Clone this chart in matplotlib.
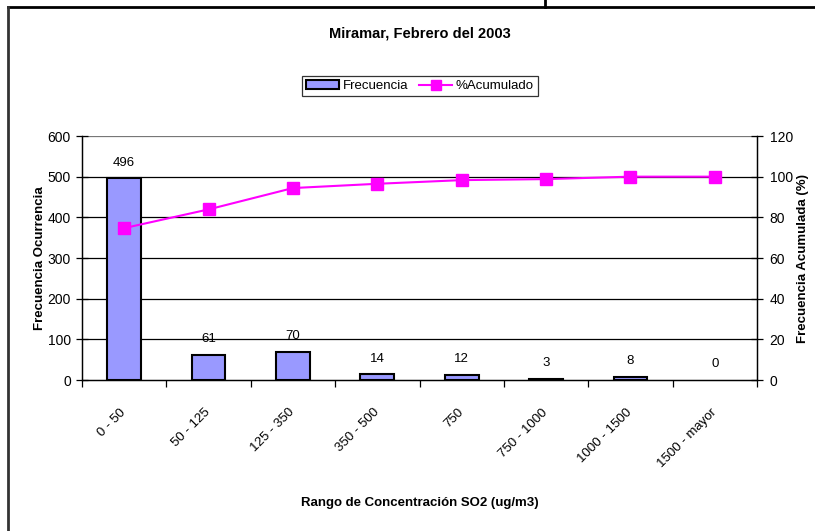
import numpy as np
import matplotlib
matplotlib.use('Agg')
import matplotlib.pyplot as plt
from matplotlib import font_manager
from matplotlib.lines import Line2D
from matplotlib.patches import Patch

# Data
categories = ['0 - 50', '50 - 125', '125 - 350', '350 - 500', '750',
              '750 - 1000', '1000 - 1500', '1500 - mayor']
frecuencia = [496, 61, 70, 14, 12, 3, 8, 0]
acumulado = [74.7, 83.9, 94.4, 96.5, 98.3, 98.8, 100.0, 100.0]

BAR_COLOR = '#9999FF'
LINE_COLOR = '#FF00FF'

available = {f.name for f in font_manager.fontManager.ttflist}
narrow = 'Liberation Sans Narrow' if 'Liberation Sans Narrow' in available else 'Liberation Sans'
plt.rcParams['font.family'] = [narrow, 'DejaVu Sans']

fig = plt.figure(figsize=(8.15, 5.31), dpi=100)
ax = fig.add_axes([82 / 815, 1 - 380 / 531, 675 / 815, 244 / 531])
ax2 = ax.twinx()

x = np.arange(len(categories))
# Excel draws nothing for an empty class
edge_w = [1.5 if v > 0 else 0 for v in frecuencia]
ax.bar(x, frecuencia, width=0.4, color=BAR_COLOR, edgecolor='black',
       linewidth=edge_w, zorder=3)
for xi, v in zip(x, frecuencia):
    ax.annotate(str(v), (xi, v), xytext=(0, 7), textcoords='offset points',
                ha='center', va='bottom', fontsize=9.5)

ax2.plot(x, acumulado, color=LINE_COLOR, linewidth=1.5, marker='s',
         markersize=8, zorder=4)

ax.set_xlim(-0.5, len(categories) - 0.5)
ax.set_ylim(0, 600)
ax.set_yticks(np.arange(0, 601, 100))
ax2.set_ylim(0, 120)
ax2.set_yticks(np.arange(0, 121, 20))

# gridlines
for yv in range(100, 601, 100):
    ax.axhline(yv, color='#777777' if yv == 600 else 'black', lw=0.9, zorder=1)

ax.set_xticks(np.arange(-0.5, len(categories), 1.0))
ax.set_xticklabels([])
ax.set_xticks(x, minor=True)
ax.set_xticklabels(categories, minor=True, rotation=45, ha='right',
                   va='center', rotation_mode='anchor', fontsize=9.5)
ax.tick_params(axis='x', which='minor', length=0, pad=22)
ax.tick_params(axis='x', which='major', length=5, direction='out', width=0.9)
ax.tick_params(axis='y', direction='inout', length=8, width=0.9, labelsize=10, pad=4)
ax2.tick_params(axis='y', direction='inout', length=8, width=0.9, labelsize=10, pad=5)

for a in (ax, ax2):
    a.spines['top'].set_visible(False)
    for s in ('left', 'right', 'bottom'):
        a.spines[s].set_linewidth(0.9)

ax.set_ylabel('Frecuencia Ocurrencia', fontsize=9.5, fontweight='bold', labelpad=1)
ax2.set_ylabel('Frecuencia Acumulada (%)', fontsize=9.5, fontweight='bold', labelpad=3)
ax.set_xlabel('Rango de Concentración SO2 (ug/m3)', fontsize=9.5,
              fontweight='bold', labelpad=0)
ax.xaxis.set_label_coords(0.5, -0.48)

fig.text(420 / 815, 1 - 33 / 531, 'Miramar, Febrero del 2003', ha='center',
         va='center', fontsize=10.5, fontweight='bold')

handles = [Patch(facecolor=BAR_COLOR, edgecolor='black', linewidth=1.5),
           Line2D([], [], color=LINE_COLOR, lw=1.5, marker='s', markersize=7)]
leg = fig.legend(handles, ['Frecuencia', '%Acumulado'], ncol=2,
                 loc='center', bbox_to_anchor=(420 / 815, 1 - 86 / 531),
                 fontsize=9.5, frameon=True, fancybox=False, borderpad=0.3,
                 handlelength=2.5, columnspacing=0.8, handletextpad=0.3)
leg.get_frame().set_edgecolor('black')
leg.get_frame().set_linewidth(0.9)

# outer chart border as in the cropped original
fig.add_artist(Line2D([8 / 815, 1], [1 - 7 / 531, 1 - 7 / 531], color='black', lw=2,
                      transform=fig.transFigure))
fig.add_artist(Line2D([8 / 815, 8 / 815], [0, 1 - 7 / 531], color='#333333', lw=2,
                      transform=fig.transFigure))
fig.add_artist(Line2D([545 / 815, 545 / 815], [1 - 7 / 531, 1], color='black', lw=2,
                      transform=fig.transFigure))

fig.savefig('out.png', dpi=100)
